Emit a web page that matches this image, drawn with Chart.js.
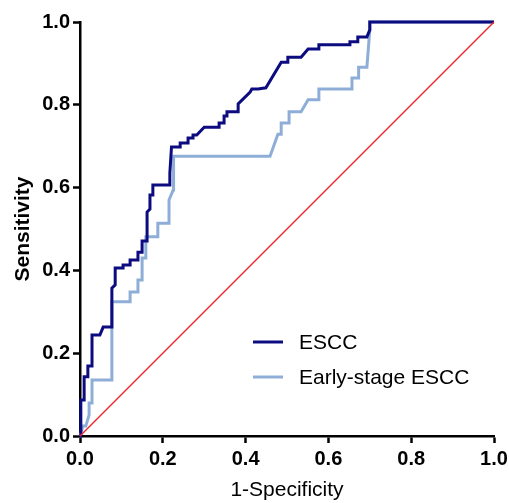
<!DOCTYPE html>
<html lang="en">
  <head>
    <meta charset="UTF-8" />
    <title>ROC curve</title>
    <script src="https://cdn.jsdelivr.net/npm/chart.js@4.4.1/dist/chart.umd.min.js"></script>
    <style>
      html, body { margin: 0; padding: 0; background: #fff; }
      .wrap { width: 509px; height: 503px; }
    </style>
  </head>
  <body>
    <div class="wrap">
      <canvas id="rocChart"></canvas>
    </div>

    <script>
      // ROC points: 1-specificity (x) and sensitivity (y)
      const esccX = [0, 0.002, 0.01, 0.01, 0.019, 0.019, 0.029, 0.029, 0.048, 0.056, 0.077, 0.077, 0.085, 0.085,
        0.104, 0.104, 0.121, 0.121, 0.140, 0.140, 0.150, 0.150, 0.162, 0.162, 0.169, 0.169, 0.176, 0.176,
        0.215, 0.217, 0.221, 0.242, 0.242, 0.261, 0.261, 0.273, 0.273, 0.282, 0.300, 0.336, 0.336, 0.348,
        0.348, 0.355, 0.355, 0.382, 0.382, 0.411, 0.415, 0.430, 0.449, 0.486, 0.502, 0.502, 0.534, 0.551,
        0.577, 0.577, 0.652, 0.652, 0.671, 0.671, 0.693, 0.700, 0.700, 1.0];
      const esccY = [0, 0.087, 0.087, 0.143, 0.143, 0.169, 0.169, 0.244, 0.244, 0.263, 0.263, 0.357, 0.365, 0.406,
        0.406, 0.413, 0.413, 0.425, 0.425, 0.444, 0.444, 0.471, 0.471, 0.541, 0.548, 0.582, 0.582, 0.606,
        0.606, 0.635, 0.698, 0.698, 0.708, 0.708, 0.720, 0.720, 0.727, 0.727, 0.746, 0.746, 0.756, 0.756,
        0.773, 0.773, 0.783, 0.783, 0.802, 0.831, 0.838, 0.838, 0.841, 0.903, 0.903, 0.915, 0.915, 0.935,
        0.935, 0.945, 0.945, 0.952, 0.952, 0.964, 0.964, 0.981, 1.0, 1.0];

      const earlyX = [0, 0.007, 0.014, 0.022, 0.022, 0.029, 0.029, 0.077, 0.077, 0.121, 0.121, 0.140, 0.140, 0.150,
        0.150, 0.159, 0.159, 0.188, 0.188, 0.215, 0.215, 0.225, 0.225, 0.227, 0.459, 0.478, 0.486, 0.486,
        0.505, 0.505, 0.534, 0.551, 0.577, 0.577, 0.657, 0.657, 0.673, 0.673, 0.693, 0.700, 0.700, 1.0];
      const earlyY = [0, 0.024, 0.024, 0.051, 0.080, 0.080, 0.135, 0.135, 0.324, 0.324, 0.348, 0.348, 0.377, 0.377,
        0.430, 0.430, 0.481, 0.481, 0.514, 0.514, 0.570, 0.594, 0.635, 0.676, 0.676, 0.729, 0.729, 0.756,
        0.756, 0.783, 0.783, 0.812, 0.812, 0.838, 0.838, 0.865, 0.865, 0.891, 0.891, 0.981, 1.0, 1.0];

      const refX = [0, 1];
      const refY = [0, 1];

      const tickValues = [0, 0.2, 0.4, 0.6, 0.8, 1.0];

      const seriesNames = ["ESCC", "Early-stage ESCC"];

      const navy = "#0c0c80";
      const lightBlue = "#8eaed8";
      const red = "#e8282b";
      const fontFam = "'Liberation Sans', Arial, sans-serif";

      function toPoints(xs, ys) {
        return xs.map((x, i) => ({ x: x, y: ys[i] }));
      }

      // legend drawn inside the plot, bottom right
      const insideLegend = {
        id: "insideLegend",
        afterDraw(chart) {
          const c = chart.ctx;
          const items = [
            { text: seriesNames[0], color: navy, y: 342 },
            { text: seriesNames[1], color: lightBlue, y: 377 },
          ];
          c.save();
          c.font = "21px " + fontFam;
          c.textBaseline = "middle";
          c.fillStyle = "#000";
          items.forEach((it) => {
            c.strokeStyle = it.color;
            c.lineWidth = 3;
            c.beginPath();
            c.moveTo(253, it.y);
            c.lineTo(283, it.y);
            c.stroke();
            c.fillText(it.text, 299, it.y + 1);
          });
          c.restore();
        },
      };

      const axisCommon = {
        type: "linear",
        min: 0,
        max: 1,
        afterBuildTicks: (scale) => {
          scale.ticks = tickValues.map((v) => ({ value: v }));
        },
        grid: {
          drawOnChartArea: false,
          drawTicks: true,
          tickLength: 7,
          tickWidth: 2.5,
          tickColor: "#000",
        },
        border: { display: true, color: "#000", width: 2.5 },
      };

      const config = {
        type: "line",
        data: {
          datasets: [
            {
              label: "reference",
              data: toPoints(refX, refY),
              borderColor: red,
              borderWidth: 1.4,
              pointRadius: 0,
              clip: 4,
            },
            {
              label: seriesNames[0],
              data: toPoints(esccX, esccY),
              borderColor: navy,
              borderWidth: 3,
              pointRadius: 0,
              tension: 0,
              clip: 4,
            },
            {
              label: seriesNames[1],
              data: toPoints(earlyX, earlyY),
              borderColor: lightBlue,
              borderWidth: 3,
              pointRadius: 0,
              tension: 0,
              clip: 4,
            },
          ],
        },
        options: {
          responsive: true,
          maintainAspectRatio: false,
          animation: false,
          layout: { padding: { top: 22, right: 15, left: 0, bottom: 0 } },
          plugins: {
            legend: { display: false },
            tooltip: { enabled: false },
          },
          scales: {
            x: {
              ...axisCommon,
              afterFit: (scale) => {
                scale.height = 67;
                scale.paddingLeft = 0;
                scale.paddingRight = 0;
              },
              ticks: {
                color: "#000",
                padding: 4,
                maxRotation: 0,
                font: { family: fontFam, size: 20, weight: "bold" },
                callback: (v) => v.toFixed(1),
              },
              title: {
                display: true,
                text: "1-Specificity",
                color: "#000",
                padding: { top: 0, bottom: 0 },
                font: { family: fontFam, size: 21 },
              },
            },
            y: {
              ...axisCommon,
              afterFit: (scale) => {
                scale.width = 80;
                scale.paddingTop = 0;
                scale.paddingBottom = 0;
              },
              ticks: {
                color: "#000",
                padding: 3,
                font: { family: fontFam, size: 20, weight: "bold" },
                callback: (v) => v.toFixed(1),
              },
              title: {
                display: true,
                text: "Sensitivity",
                color: "#000",
                padding: { top: 11, bottom: 0 },
                font: { family: fontFam, size: 21, weight: "bold" },
              },
            },
          },
        },
        plugins: [insideLegend],
      };

      const rocChart = new Chart(document.getElementById("rocChart"), config);
    </script>
  </body>
</html>
